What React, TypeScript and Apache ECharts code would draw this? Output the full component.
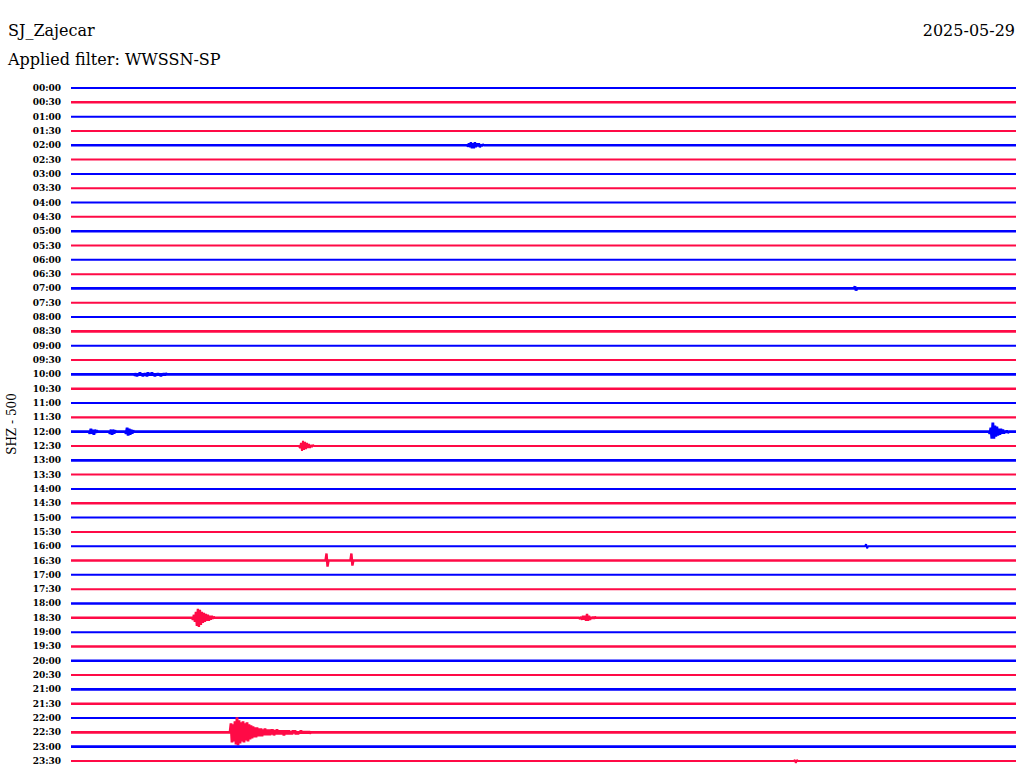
import React, { useEffect, useRef } from "react";
import * as echarts from "echarts";

const STATION = "SJ_Zajecar";
const DATE = "2025-05-29";
const FILTER = "Applied filter: WWSSN-SP";
const CHANNEL = "SHZ - 500";

const TIME_LABELS = [
  "00:00", "00:30", "01:00", "01:30", "02:00", "02:30", "03:00", "03:30",
  "04:00", "04:30", "05:00", "05:30", "06:00", "06:30", "07:00", "07:30",
  "08:00", "08:30", "09:00", "09:30", "10:00", "10:30", "11:00", "11:30",
  "12:00", "12:30", "13:00", "13:30", "14:00", "14:30", "15:00", "15:30",
  "16:00", "16:30", "17:00", "17:30", "18:00", "18:30", "19:00", "19:30",
  "20:00", "20:30", "21:00", "21:30", "22:00", "22:30", "23:00", "23:30",
];

// background noise level per trace (read visually, 2 = quiet, 3 = noisy)
const NOISE_LEVEL = [
  2, 2.4, 2, 2, 2.4, 2, 2, 2,
  2, 2, 2.4, 2, 2, 2, 2.8, 2,
  2, 2.8, 2, 2, 2.8, 2.4, 2, 2.4,
  2.8, 2, 2.8, 2, 2, 2.4, 2, 2,
  2, 2.4, 2, 2, 2.4, 2.4, 2, 2.4,
  2.4, 2, 2.8, 2.4, 2, 2.8, 2.8, 2,
];

// sample interval of event windows (minutes)
const SAMPLE_STEP = 0.0317;

// events: trace index, start minute within the 30-min row, amplitudes (+ = down)
const EV_0200 = [1, -2, 2, -3, 3, -2, 3, -3, 2, -2, 1, -2, 2, -1, 1, -1];
const EV_1000 = [1, -1, 2, -1, 1, -2, 1, -1, 2, -1, 1, -1, 2, -2, 1, -1, 1, -2, 1, -1, 2, -1, 1, -1, 1, -1, 2, -1, 1, -1, 1, -1];
const EV_1200_A = [2, -3, 2, -2, 3, -2, 1, -1];
const EV_1200_B = [2, -2, 3, -2, 2, -1];
const EV_1200_C = [2, -4, 4, -3, 3, -2, 2, -1];
const EV_1200_D = [2, -4, 7, -9, 7, -6, 5, -5, 4, -3, 3, -3, 2, -2, 2, -1, 1, -1, 1];
const EV_1230 = [2, -3, 5, -5, 4, -4, 3, -3, 2, -2, 2, -1, 1, -1];
const EV_1630_A = [0, -7, 6, 0];
const EV_1630_B = [0, -7, 5, 0];
const EV_1830_A = [2, -3, 4, -6, 8, -9, 9, -8, 7, -6, 5, -5, 4, -4, 3, -3, 3, -2, 2, -2, 1, -1];
const EV_1830_B = [1, -1, 2, -2, 2, -2, 3, -4, 3, -2, 2, -1, 1, -1, 1, -1];
const EV_2230 = [
  -9, 10, -8, 9, -11, 12, -15, 13, -12, 11, -10, 9, -11, 10, -9, 8, -10, 9, -8, 7,
  -7, 6, -6, 5, -5, 5, -5, 4, -4, 4, -4, 4, -3, 3, -4, 3, -3, 3, -3, 3,
  -3, 2, -3, 3, -2, 2, -3, 2, -2, 2, -2, 2, -2, 3, -2, 2, -2, 2, -2, 2,
  -1, 2, -2, 1, -2, 2, -1, 2, -1, 1, -2, 1, -1, 1, -1, 1, -1, 1, -1, 1,
];
const EV_2330 = [-1, 2, -1];
const EV_1600 = [-2, 2];
const EV_0700 = [-2, 2];

const EVENTS: { trace: number; start: number; amp: number[] }[] = [
  { trace: 4, start: 12.6, amp: EV_0200 },
  { trace: 20, start: 2.03, amp: EV_1000 },
  { trace: 24, start: 0.6, amp: EV_1200_A },
  { trace: 24, start: 1.24, amp: EV_1200_B },
  { trace: 24, start: 1.75, amp: EV_1200_C },
  { trace: 24, start: 29.17, amp: EV_1200_D },
  { trace: 25, start: 7.27, amp: EV_1230 },
  { trace: 33, start: 8.08, amp: EV_1630_A },
  { trace: 33, start: 8.87, amp: EV_1630_B },
  { trace: 37, start: 3.87, amp: EV_1830_A },
  { trace: 37, start: 16.16, amp: EV_1830_B },
  { trace: 45, start: 5.08, amp: EV_2230 },
  { trace: 47, start: 22.98, amp: EV_2330 },
  { trace: 32, start: 25.24, amp: EV_1600 },
  { trace: 14, start: 24.89, amp: EV_0700 },
];

const AMP_GAIN = 1 / 14.3; // one amplitude unit as a fraction of row spacing
const COLORS = ["#0000ff", "#ff0a46"];

function buildTrace(i: number): number[][] {
  const pts: number[][] = [[0, i]];
  const evs = EVENTS.filter((e) => e.trace === i).sort((a, b) => a.start - b.start);
  for (const e of evs) {
    pts.push([e.start - SAMPLE_STEP, i]);
    e.amp.forEach((a, k) => pts.push([e.start + k * SAMPLE_STEP, i + a * AMP_GAIN]));
    pts.push([e.start + e.amp.length * SAMPLE_STEP, i]);
  }
  pts.push([30, i]);
  return pts;
}

export default function App() {
  const ref = useRef<HTMLDivElement>(null);
  useEffect(() => {
    if (!ref.current) return;
    const chart = echarts.init(ref.current, undefined, { renderer: "svg" });
    const font = "'DejaVu Serif', 'Liberation Serif', serif";
    chart.setOption({
      animation: false,
      backgroundColor: "#ffffff",
      grid: { left: 71, right: 8, top: 88, height: 673, containLabel: false },
      xAxis: {
        type: "value",
        min: 0,
        max: 30,
        show: false,
      },
      yAxis: {
        type: "value",
        inverse: true,
        min: 0,
        max: 47,
        interval: 1,
        axisLine: { show: false },
        axisTick: { show: false },
        splitLine: { show: false },
        axisLabel: {
          margin: 10,
          fontFamily: font,
          fontSize: 9,
          fontWeight: "bold",
          color: "#000",
          formatter: (v: number) => TIME_LABELS[Math.round(v)] ?? "",
        },
      },
      graphic: [
        { type: "text", left: 8, top: 22, style: { text: STATION, fontFamily: font, fontSize: 16, fill: "#000" } },
        { type: "text", right: 9, top: 22, style: { text: DATE, fontFamily: font, fontSize: 16, fill: "#000" } },
        { type: "text", left: 8, top: 51, style: { text: FILTER, fontFamily: font, fontSize: 16, fill: "#000" } },
        {
          type: "text",
          x: 12,
          y: 424,
          rotation: Math.PI / 2,
          style: { text: CHANNEL, fontFamily: font, fontSize: 12, fill: "#000", align: "center", verticalAlign: "middle" },
        },
      ],
      series: TIME_LABELS.map((_, i) => ({
        type: "line",
        data: buildTrace(i),
        showSymbol: false,
        symbol: "none",
        clip: false,
        silent: true,
        lineStyle: { color: COLORS[i % 2], width: NOISE_LEVEL[i], join: "bevel" },
      })),
    });
    return () => chart.dispose();
  }, []);
  return (
    <div
      ref={ref}
      style={{ position: "absolute", left: 0, top: 0, width: 1024, height: 780 }}
    />
  );
}
